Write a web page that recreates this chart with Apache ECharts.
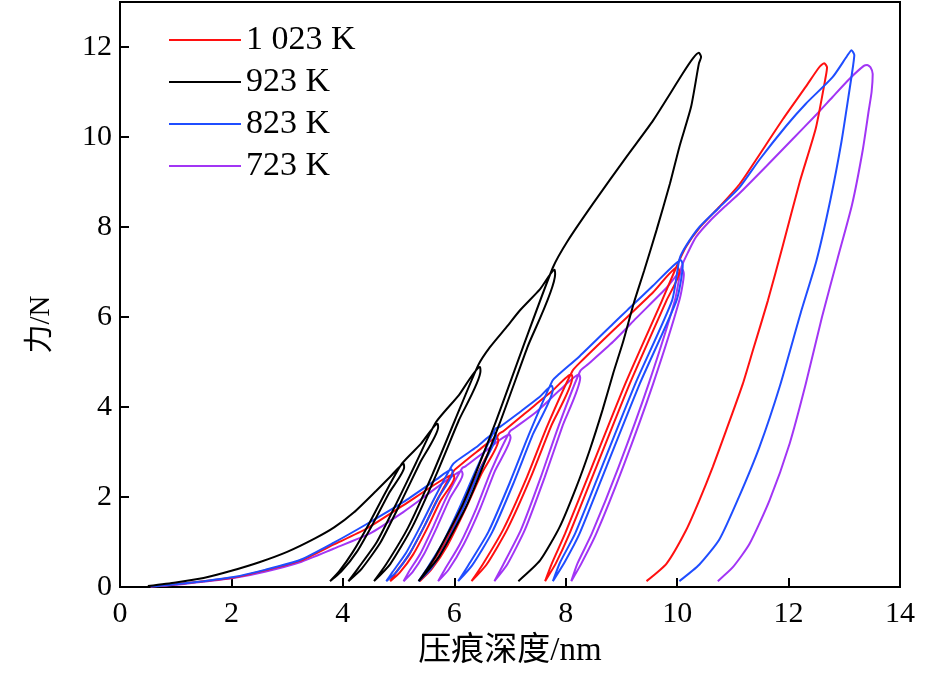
<!DOCTYPE html>
<html>
<head>
<meta charset="utf-8">
<script src="https://cdn.jsdelivr.net/npm/echarts@6/dist/echarts.min.js"></script>
<style>
  html, body { margin: 0; padding: 0; background: #fff; }
  #main { width: 945px; height: 673px; }
</style>
</head>
<body>
<div id="main"></div>
<script>
// load / unload curves, [depth nm, force N]
var k1023 = [
  [0.55,0.01],[1.0,0.06],[1.5,0.13],[2.04,0.21],[2.6,0.37],[3.23,0.58],[3.83,0.94],[4.43,1.30],[5.09,1.82],[5.68,2.30],[5.98,2.50],
  [6.0,2.43],[5.75,1.91],[5.52,1.32],[5.26,0.72],[5.02,0.32],[4.85,0.13],
  [4.95,0.32],[5.19,0.72],[5.45,1.32],[5.68,1.91],[5.99,2.58],
  [6.05,2.65],[6.40,3.0],[6.77,3.32],
  [6.79,3.25],[6.49,2.52],[6.20,1.73],[5.88,0.93],[5.59,0.39],[5.38,0.13],
  [5.52,0.39],[5.81,0.93],[6.13,1.73],[6.42,2.52],[6.80,3.40],
  [6.88,3.46],[7.30,3.89],[7.77,4.37],[8.10,4.73],
  [8.12,4.66],[7.74,3.58],[7.37,2.43],[6.95,1.28],[6.58,0.50],[6.31,0.13],
  [6.51,0.50],[6.88,1.28],[7.30,2.43],[7.67,3.58],[8.12,4.80],
  [8.25,4.98],[8.85,5.70],[9.57,6.55],[10.01,7.11],
  [10.04,7.0],[9.81,6.37],[9.15,4.52],[8.55,2.67],[8.07,1.19],[7.82,0.52],[7.63,0.13],
  [7.75,0.52],[7.99,1.19],[8.47,2.67],[9.07,4.52],[9.73,6.37],[10.0,7.15],
  [10.16,7.56],[10.40,7.98],[10.76,8.45],[11.12,8.95],[11.42,9.50],[11.90,10.40],[12.31,11.12],[12.55,11.55],[12.64,11.64],
  [12.69,11.55],[12.67,11.36],[12.49,10.20],[12.2,9.0],[11.9,7.6],[11.63,6.37],[11.36,5.26],[11.18,4.52],[10.88,3.48],[10.64,2.67],[10.40,1.93],[10.16,1.26],[9.81,0.52],[9.45,0.13]
];

var k923 = [
  [0.50,0.02],[1.0,0.10],[1.5,0.20],[2.0,0.36],[2.5,0.55],[3.0,0.78],[3.5,1.08],[3.85,1.33],[4.2,1.66],[4.6,2.14],[4.85,2.45],[5.09,2.74],
  [5.10,2.66],[4.83,2.09],[4.55,1.43],[4.25,0.78],[3.97,0.34],[3.77,0.13],
  [3.93,0.34],[4.18,0.78],[4.48,1.43],[4.76,2.09],[5.06,2.74],
  [5.40,3.18],[5.70,3.63],
  [5.71,3.55],[5.38,2.75],[5.04,1.88],[4.68,1.0],[4.34,0.41],[4.10,0.13],
  [4.27,0.41],[4.61,1.0],[4.97,1.88],[5.31,2.75],[5.67,3.66],
  [6.08,4.26],[6.46,4.89],
  [6.47,4.80],[6.08,3.70],[5.68,2.51],[5.24,1.32],[4.85,0.51],[4.56,0.13],
  [4.78,0.51],[5.17,1.32],[5.61,2.51],[6.01,3.70],[6.43,4.93],
  [6.64,5.33],[6.94,5.78],[7.18,6.15],[7.54,6.62],[7.80,7.05],
  [7.81,6.95],[7.31,5.32],[6.80,3.59],[6.24,1.86],[5.73,0.68],[5.36,0.13],
  [5.66,0.68],[6.16,1.86],[6.72,3.59],[7.23,5.32],[7.77,7.10],
  [8.04,7.70],[8.49,8.52],[9.09,9.56],[9.57,10.37],[10.10,11.41],[10.28,11.74],[10.39,11.87],
  [10.43,11.78],[10.39,11.63],[10.25,10.67],[10.04,9.78],[9.87,8.96],[9.63,7.93],[9.41,7.04],[9.22,6.30],[9.03,5.45],[8.85,4.74],[8.66,3.93],[8.43,3.04],[8.19,2.22],[7.89,1.33],[7.54,0.59],[7.15,0.13]
];

var k823 = [
  [0.55,0.01],[1.0,0.06],[1.5,0.13],[2.04,0.22],[2.6,0.38],[3.23,0.60],[3.83,0.98],[4.43,1.40],[5.09,1.89],[5.68,2.39],[5.95,2.61],
  [5.97,2.55],[5.72,1.99],[5.47,1.37],[5.20,0.75],[4.96,0.33],[4.78,0.13],
  [4.89,0.33],[5.13,0.75],[5.40,1.37],[5.65,1.99],[5.96,2.70],
  [6.04,2.80],[6.40,3.11],[6.73,3.42],
  [6.75,3.35],[6.46,2.60],[6.17,1.78],[5.85,0.95],[5.57,0.39],[5.36,0.13],
  [5.50,0.39],[5.78,0.95],[6.10,1.78],[6.39,2.60],[6.74,3.52],
  [6.82,3.56],[7.18,3.89],[7.53,4.22],[7.75,4.47],
  [7.77,4.40],[7.41,3.39],[7.06,2.30],[6.68,1.22],[6.32,0.48],[6.07,0.13],
  [6.25,0.48],[6.61,1.22],[6.99,2.30],[7.34,3.39],[7.76,4.58],
  [7.87,4.72],[8.25,5.13],[8.85,5.85],[9.12,6.17],[9.57,6.70],[9.92,7.13],[10.07,7.26],
  [10.10,7.15],[9.99,6.37],[9.33,4.52],[8.73,2.67],[8.25,1.19],[7.98,0.55],[7.77,0.13],
  [7.90,0.55],[8.17,1.19],[8.65,2.67],[9.25,4.52],[9.91,6.37],[10.04,7.28],
  [10.16,7.58],[10.40,8.0],[10.76,8.44],[11.12,8.88],[11.48,9.50],[11.96,10.25],[12.31,10.74],[12.79,11.33],[13.05,11.8],[13.13,11.93],
  [13.18,11.82],[13.16,11.6],[13.10,11.1],[12.95,9.9],[12.75,8.6],[12.50,7.25],[12.22,6.1],[11.84,4.45],[11.48,3.12],[11.12,2.03],[10.76,1.06],[10.40,0.50],[10.04,0.13]
];

var k723 = [
  [0.55,0.01],[1.0,0.05],[1.5,0.12],[2.04,0.20],[2.6,0.34],[3.23,0.55],[3.83,0.85],[4.49,1.19],[5.09,1.67],[5.38,1.93],[5.86,2.37],[6.13,2.58],
  [6.15,2.50],[5.92,1.97],[5.70,1.36],[5.46,0.74],[5.25,0.33],[5.09,0.13],
  [5.18,0.33],[5.39,0.74],[5.63,1.36],[5.85,1.97],[6.14,2.64],
  [6.20,2.68],[6.58,3.04],[6.99,3.39],
  [7.01,3.32],[6.73,2.58],[6.47,1.76],[6.17,0.95],[5.90,0.39],[5.71,0.13],
  [5.83,0.39],[6.10,0.95],[6.40,1.76],[6.66,2.58],[7.0,3.46],
  [7.09,3.54],[7.47,3.89],[7.89,4.37],[8.24,4.72],
  [8.26,4.65],[7.94,3.57],[7.62,2.43],[7.27,1.28],[6.95,0.50],[6.72,0.13],
  [6.88,0.50],[7.20,1.28],[7.55,2.43],[7.87,3.57],[8.26,4.80],
  [8.40,4.95],[8.85,5.45],[9.27,5.98],[9.81,6.65],[10.10,7.05],
  [10.12,6.95],[10.04,6.37],[9.57,4.52],[9.03,2.67],[8.55,1.19],[8.28,0.52],[8.10,0.13],
  [8.21,0.52],[8.47,1.19],[8.95,2.67],[9.49,4.52],[9.96,6.37],[10.08,7.12],
  [10.20,7.45],[10.34,7.78],[10.6,8.15],[10.88,8.48],[11.12,8.75],[11.6,9.35],[12.07,9.95],[12.5,10.5],[12.79,10.89],[13.1,11.3],[13.35,11.58],[13.41,11.6],
  [13.47,11.55],[13.51,11.4],[13.49,11.0],[13.44,10.6],[13.33,9.7],[13.14,8.5],[12.88,7.3],[12.60,6.0],[12.31,4.52],[12.02,3.19],[11.66,1.93],[11.30,0.96],[11.0,0.44],[10.73,0.13]
];

var names = ['1 023 K', '923 K', '823 K', '723 K'];

var serif = '"Liberation Serif", "Times New Roman", "Noto Sans CJK SC", serif';
var myChart = echarts.init(document.getElementById('main'));

function curve(name, data, color) {
    return {
        name: name,
        type: 'line',
        data: data,
        symbol: 'none',
        smooth: 0.2,
        lineStyle: { color: color, width: 2 },
        itemStyle: { color: color }
    };
}

var option = {
    animation: false,
    backgroundColor: '#fff',
    grid: {
        left: 120, right: 45, top: 2, bottom: 86,
        show: true,
        borderColor: '#000',
        borderWidth: 2
    },
    legend: {
        data: names,
        orient: 'vertical',
        left: 164,
        top: 18,
        icon: 'rect',
        itemWidth: 72,
        itemHeight: 2,
        itemGap: 8,
        textStyle: { fontFamily: serif, fontSize: 34, color: '#000' }
    },
    xAxis: {
        type: 'value',
        min: 0, max: 14, interval: 2,
        name: '压痕深度/nm',
        nameLocation: 'middle',
        nameGap: 48,
        nameTextStyle: { fontFamily: serif, fontSize: 33, color: '#000' },
        axisLine: { lineStyle: { color: '#000', width: 2 } },
        axisTick: { inside: true, length: 9, lineStyle: { color: '#000', width: 2 } },
        axisLabel: { fontFamily: serif, fontSize: 30, color: '#000', margin: 12 },
        splitLine: { show: false }
    },
    yAxis: {
        type: 'value',
        min: 0, max: 13, interval: 2,
        name: '力/N',
        nameLocation: 'middle',
        nameGap: 64,
        nameTextStyle: { fontFamily: serif, fontSize: 29, color: '#000', padding: [0, 60, 0, 0] },
        axisLine: { lineStyle: { color: '#000', width: 2 } },
        axisTick: { inside: true, length: 9, lineStyle: { color: '#000', width: 2 } },
        axisLabel: { fontFamily: serif, fontSize: 30, color: '#000', margin: 8, showMaxLabel: false },
        splitLine: { show: false }
    },
    series: [
        curve('723 K', k723, '#a235f5'),
        curve('1 023 K', k1023, '#ff1010'),
        curve('823 K', k823, '#1f4dff'),
        curve('923 K', k923, '#000000')
    ]
};
myChart.setOption(option);
</script>
</body>
</html>
